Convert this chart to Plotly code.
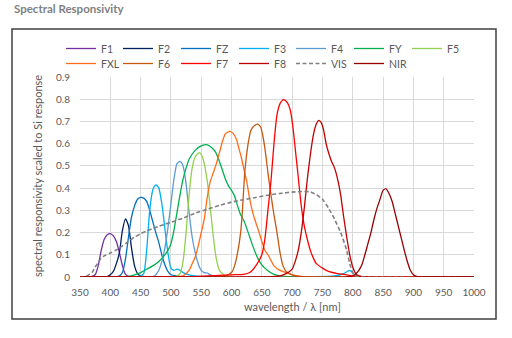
import plotly.graph_objects as go

# ---- data (wavelength nm, responsivity) ----
F1_x = [350, 370, 375, 380, 385, 390, 395, 400, 405, 410, 415, 420, 425, 430, 440, 1000]
F1_y = [0, 0.003, 0.01, 0.05, 0.12, 0.17, 0.19, 0.195, 0.185, 0.16, 0.11, 0.05, 0.012, 0.003, 0.001, 0]

F2_x = [350, 395, 400, 405, 410, 415, 420, 425, 430, 435, 440, 445, 450, 460, 1000]
F2_y = [0, 0.002, 0.01, 0.025, 0.06, 0.11, 0.21, 0.262, 0.23, 0.13, 0.05, 0.015, 0.005, 0.001, 0]

FZ_x = [350, 410, 415, 420, 425, 430, 435, 440, 445, 450, 455, 460, 465, 470, 475, 480, 485, 490, 495, 500, 510, 520, 1000]
FZ_y = [0, 0.001, 0.005, 0.02, 0.08, 0.18, 0.27, 0.32, 0.35, 0.358, 0.355, 0.34, 0.30, 0.25, 0.20, 0.155, 0.10, 0.055, 0.025, 0.01, 0.005, 0.001, 0]

F3_x = [350, 440, 450, 455, 460, 465, 470, 475, 480, 485, 490, 495, 500, 505, 510, 515, 520, 530, 540, 560, 770, 785, 795, 805, 815, 1000]
F3_y = [0, 0.001, 0.005, 0.015, 0.12, 0.30, 0.39, 0.415, 0.40, 0.33, 0.22, 0.11, 0.04, 0.03, 0.035, 0.03, 0.02, 0.01, 0.005, 0.002, 0.005, 0.015, 0.03, 0.005, 0.001, 0]

F4_x = [350, 470, 475, 480, 485, 490, 495, 500, 505, 510, 515, 520, 525, 530, 535, 540, 545, 550, 555, 560, 565, 575, 590, 1000]
F4_y = [0, 0.001, 0.01, 0.03, 0.07, 0.13, 0.22, 0.33, 0.44, 0.51, 0.52, 0.50, 0.42, 0.29, 0.18, 0.11, 0.06, 0.03, 0.02, 0.018, 0.01, 0.003, 0.001, 0]

FY_x = [350, 420, 430, 440, 450, 460, 470, 480, 490, 495, 500, 505, 510, 515, 520, 525, 530, 540, 550, 560, 570, 575, 580, 585, 590, 595, 600, 605, 610, 615, 620, 625, 630, 635, 640, 645, 650, 655, 660, 670, 680, 700, 1000]
FY_y = [0, 0.001, 0.003, 0.01, 0.02, 0.035, 0.05, 0.07, 0.10, 0.12, 0.15, 0.21, 0.29, 0.37, 0.44, 0.49, 0.53, 0.57, 0.59, 0.595, 0.575, 0.555, 0.52, 0.48, 0.44, 0.41, 0.39, 0.365, 0.32, 0.28, 0.255, 0.22, 0.18, 0.14, 0.105, 0.075, 0.055, 0.04, 0.028, 0.012, 0.005, 0.001, 0]

F5_x = [350, 505, 510, 515, 520, 525, 530, 535, 540, 547, 552, 555, 560, 565, 570, 575, 580, 590, 600, 1000]
F5_y = [0, 0.001, 0.005, 0.015, 0.07, 0.20, 0.37, 0.49, 0.54, 0.56, 0.54, 0.51, 0.43, 0.31, 0.18, 0.08, 0.03, 0.005, 0.001, 0]

FXL_x = [350, 500, 520, 530, 535, 540, 545, 550, 555, 560, 565, 570, 575, 580, 585, 590, 597, 603, 608, 612, 616, 620, 625, 630, 635, 640, 645, 650, 655, 660, 665, 670, 680, 690, 700, 720, 1000]
FXL_y = [0, 0.001, 0.005, 0.03, 0.06, 0.09, 0.14, 0.20, 0.26, 0.36, 0.43, 0.47, 0.51, 0.56, 0.61, 0.645, 0.655, 0.645, 0.62, 0.58, 0.54, 0.49, 0.43, 0.35, 0.29, 0.245, 0.205, 0.16, 0.12, 0.10, 0.075, 0.05, 0.03, 0.02, 0.01, 0.002, 0]

F6_x = [350, 580, 590, 600, 605, 610, 615, 618, 621, 624, 628, 632, 637, 643, 648, 652, 656, 660, 665, 670, 675, 680, 685, 690, 700, 710, 720, 1000]
F6_y = [0, 0.001, 0.005, 0.02, 0.05, 0.11, 0.20, 0.30, 0.44, 0.53, 0.61, 0.66, 0.68, 0.688, 0.675, 0.63, 0.56, 0.47, 0.37, 0.28, 0.20, 0.11, 0.05, 0.025, 0.01, 0.003, 0.001, 0]

F7_x = [350, 540, 560, 600, 620, 630, 640, 650, 655, 660, 665, 670, 675, 680, 686, 692, 697, 701, 705, 710, 715, 720, 725, 730, 735, 740, 750, 760, 775, 790, 800, 820, 1000]
F7_y = [0, 0.002, 0.005, 0.01, 0.012, 0.02, 0.05, 0.10, 0.17, 0.30, 0.43, 0.60, 0.73, 0.78, 0.798, 0.785, 0.75, 0.68, 0.58, 0.45, 0.32, 0.23, 0.17, 0.12, 0.085, 0.06, 0.04, 0.025, 0.015, 0.01, 0.005, 0.001, 0]

F8_x = [350, 660, 680, 690, 700, 705, 710, 715, 720, 725, 730, 735, 740, 744, 748, 752, 756, 760, 765, 770, 775, 780, 785, 790, 795, 800, 805, 810, 820, 1000]
F8_y = [0, 0.001, 0.005, 0.015, 0.035, 0.07, 0.12, 0.20, 0.31, 0.44, 0.55, 0.64, 0.69, 0.705, 0.695, 0.66, 0.60, 0.56, 0.52, 0.49, 0.44, 0.37, 0.27, 0.18, 0.10, 0.045, 0.015, 0.005, 0.001, 0]

VIS_x = [350, 360, 370, 375, 380, 385, 390, 400, 410, 420, 430, 440, 450, 460, 470, 480, 490, 500, 520, 540, 560, 580, 600, 620, 640, 660, 680, 700, 720, 730, 740, 750, 760, 770, 780, 790, 795, 800, 805, 810, 1000]
VIS_y = [0, 0.003, 0.02, 0.045, 0.065, 0.085, 0.095, 0.108, 0.122, 0.14, 0.16, 0.18, 0.195, 0.207, 0.218, 0.228, 0.237, 0.246, 0.265, 0.287, 0.305, 0.322, 0.337, 0.348, 0.358, 0.368, 0.376, 0.382, 0.385, 0.383, 0.37, 0.35, 0.31, 0.26, 0.20, 0.12, 0.06, 0.02, 0.003, 0.0, 0]

NIR_x = [350, 790, 800, 805, 810, 815, 820, 825, 830, 835, 840, 845, 850, 855, 860, 865, 870, 875, 880, 885, 890, 895, 900, 905, 910, 1000]
NIR_y = [0, 0.001, 0.005, 0.015, 0.03, 0.055, 0.10, 0.15, 0.20, 0.26, 0.31, 0.35, 0.39, 0.397, 0.375, 0.34, 0.285, 0.23, 0.175, 0.12, 0.07, 0.03, 0.01, 0.003, 0.001, 0]

names = ["F1", "F2", "FZ", "F3", "F4", "FY", "F5",
         "FXL", "F6", "F7", "F8", "VIS", "NIR"]
xs = [F1_x, F2_x, FZ_x, F3_x, F4_x, FY_x, F5_x, FXL_x, F6_x, F7_x, F8_x, VIS_x, NIR_x]
ys = [F1_y, F2_y, FZ_y, F3_y, F4_y, FY_y, F5_y, FXL_y, F6_y, F7_y, F8_y, VIS_y, NIR_y]
colors = ["#7030a0", "#002060", "#0070c0", "#00b0f0", "#5b9bd5", "#00b050", "#92d050",
          "#ff6d1a", "#c55a11", "#ff0000", "#c00000", "#808080", "#990000"]

x_ticks = list(range(350, 1001, 50))
y_ticks = [0, 0.1, 0.2, 0.3, 0.4, 0.5, 0.6, 0.7, 0.8, 0.9]
y_ticktext = ["0", "0.1", "0.2", "0.3", "0.4", "0.5", "0.6", "0.7", "0.8", "0.9"]

FONT = "Lato"
TXT = "#595959"

L, R, T, B = 80, 38, 77, 61
PW = 512 - L - R
PH = 338 - T - B

def px(xp):
    return (xp - L) / PW

def py(yp):
    return (338 - B - yp) / PH

# legend layout: 7 entries in the first row, 6 in the second
col_left = [61, 118, 176, 234, 291, 349, 407]
row_top = [34, 49]

fig = go.Figure()
legends = {}
for i, (n, x, y, c) in enumerate(zip(names, xs, ys, colors)):
    key = "legend" if i == 0 else f"legend{i + 1}"
    row, col = (0, i) if i < 7 else (1, i - 7)
    legends[key] = dict(orientation="h", xanchor="left", yanchor="top",
                        x=px(col_left[col]), y=py(row_top[row]),
                        font=dict(family=FONT, size=10.5, color=TXT),
                        bgcolor="rgba(0,0,0,0)")
    fig.add_trace(go.Scatter(
        x=x, y=y, name=n, mode="lines", legend=key,
        line=dict(color=c, width=1.6 if n == "VIS" else 1.3,
                  dash="4px,2.5px" if n == "VIS" else "solid",
                  shape="spline", smoothing=0.6),
    ))

fig.update_layout(
    width=512, height=338,
    margin=dict(l=L, r=R, t=T, b=B),
    paper_bgcolor="white", plot_bgcolor="white",
    font=dict(family=FONT, size=11, color=TXT),
    showlegend=True,
    xaxis=dict(range=[350, 1000], tickvals=x_ticks, showgrid=True, gridcolor="#d9d9d9",
               gridwidth=1, zeroline=False, showline=False, ticks="",
               ticklabelstandoff=8,
               tickfont=dict(family=FONT, size=10, color=TXT)),
    yaxis=dict(range=[0, 0.9], tickvals=y_ticks, ticktext=y_ticktext, showgrid=True,
               gridcolor="#d9d9d9", gridwidth=1, zeroline=False, showline=False, ticks="",
               ticklabelstandoff=9,
               tickfont=dict(family=FONT, size=10, color=TXT)),
    shapes=[dict(type="rect", xref="paper", yref="paper",
                 x0=px(12), x1=px(496), y0=py(319), y1=py(29),
                 line=dict(color="#404040", width=1.5), fillcolor="rgba(0,0,0,0)",
                 layer="below")],
    annotations=[
        dict(text="<b>Spectral Responsivity</b>", xref="paper", yref="paper",
             x=px(12), y=py(8), xanchor="left", yanchor="middle", showarrow=False,
             font=dict(family=FONT, size=11.5, color="#7f7f7f")),
        dict(text="spectral responsivity scaled to Si response", xref="paper", yref="paper",
             x=px(37), y=py(176), xanchor="center", yanchor="middle", textangle=-90,
             showarrow=False, font=dict(family=FONT, size=11, color=TXT)),
        dict(text="wavelength / λ [nm]", xref="paper", yref="paper",
             x=px(292), y=py(306), xanchor="center", yanchor="middle",
             showarrow=False, font=dict(family=FONT, size=11, color=TXT)),
    ],
)
fig.update_layout(**legends)

fig.write_html("out.html")
